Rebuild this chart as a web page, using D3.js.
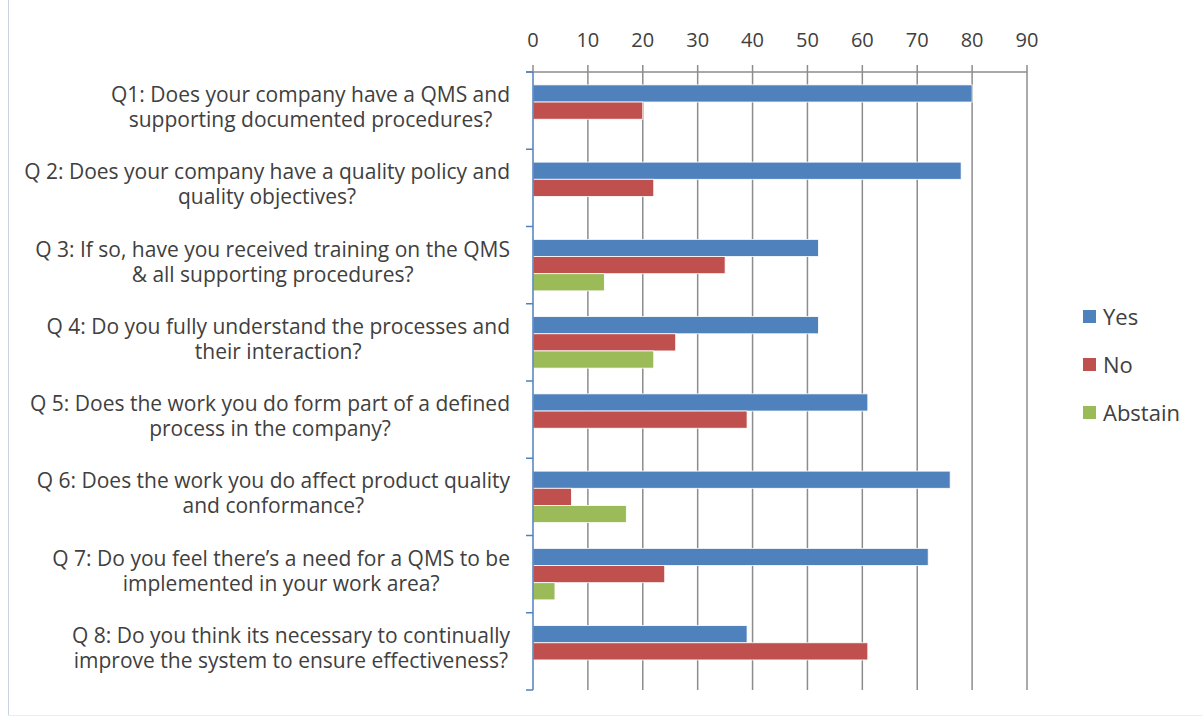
<!DOCTYPE html>
<html>
<head>
<meta charset="utf-8">
<script src="https://cdn.jsdelivr.net/npm/d3@7"></script>
<style>
  body { margin: 0; background: #fff; }
  svg text { font-family: "Open Sans", sans-serif; fill: #404040; }
</style>
</head>
<body>
<svg id="chart" width="1202" height="717"></svg>
<script>
const questions = [
    ['Q1: Does your company have a QMS and', 'supporting documented procedures?'],
    ['Q 2: Does your company have a quality policy and', 'quality objectives?'],
    ['Q 3: If so, have you received training on the QMS', '& all supporting procedures?'],
    ['Q 4: Do you fully understand the processes and', 'their interaction?'],
    ['Q 5: Does the work you do form part of a defined', 'process in the company?'],
    ['Q 6: Does the work you do affect product quality', 'and conformance?'],
    ['Q 7: Do you feel there\u2019s a need for a QMS to be', 'implemented in your work area?'],
    ['Q 8: Do you think its necessary to continually', 'improve the system to ensure effectiveness?']
];
const seriesNames = ['Yes', 'No', 'Abstain'];
const yesValues = [80, 78, 52, 52, 61, 76, 72, 39];
const noValues = [20, 22, 35, 26, 39, 7, 24, 61];
const abstainValues = [0, 0, 13, 22, 0, 17, 4, 0];
const xTicks = [0, 10, 20, 30, 40, 50, 60, 70, 80, 90];

const colors = {Yes: '#4F81BD', No: '#C0504D', Abstain: '#9BBB59'};
const margins = {left: 533, top: 72, right: 175, bottom: 27};
const width = 1202, height = 717;

const svg = d3.select('#chart');

// frame edges like the cropped original
svg.append('line').attr('x1', 8.5).attr('x2', 8.5).attr('y1', 0).attr('y2', 715)
    .attr('stroke', '#c9d3e3').attr('stroke-width', 1);
svg.append('line').attr('x1', 8).attr('x2', width).attr('y1', 715.5).attr('y2', 715.5)
    .attr('stroke', '#ececec').attr('stroke-width', 1);

const rows = questions.map((q, i) => ({
    idx: i,
    Yes: yesValues[i],
    No: noValues[i],
    Abstain: abstainValues[i]
}));

const xScale = d3.scaleLinear().domain([0, 90]).range([margins.left, 1027]);
const yScale = d3.scaleBand().domain(d3.range(questions.length))
    .range([margins.top, height - margins.bottom]);
// gap width 150% of a bar => bars take 3/(3+1.5)
const inner = d3.scaleBand().domain(seriesNames)
    .range([0, yScale.bandwidth() * 3 / 4.5]);
const innerOffset = yScale.bandwidth() * 0.75 / 4.5;

// vertical grid lines
const grid = svg.append('g').attr('class', 'grid');
grid.selectAll('line').data(xTicks.slice(1)).enter().append('line')
    .attr('x1', (d) => xScale(d)).attr('x2', (d) => xScale(d))
    .attr('y1', margins.top - 7).attr('y2', height - margins.bottom)
    .attr('stroke', '#8c8c8c').attr('stroke-width', 1.5);

// top axis line
svg.append('line').attr('x1', margins.left - 7).attr('x2', xScale(90))
    .attr('y1', margins.top).attr('y2', margins.top)
    .attr('stroke', '#8c8c8c').attr('stroke-width', 1.5);
svg.append('line').attr('x1', margins.left).attr('x2', margins.left)
    .attr('y1', margins.top - 7).attr('y2', margins.top)
    .attr('stroke', '#8c8c8c').attr('stroke-width', 1.5);

// tick labels
svg.append('g').selectAll('text').data(xTicks).enter().append('text')
    .attr('x', (d) => xScale(d)).attr('y', 47)
    .attr('text-anchor', 'middle')
    .style('font-size', '20px')
    .text((d) => d);

// bars
const groups = svg.append('g').selectAll('g').data(rows).enter().append('g')
    .attr('transform', (d) => `translate(0 ${yScale(d.idx) + innerOffset})`);
groups.selectAll('rect')
    .data((d) => seriesNames.map((s) => ({key: s, value: d[s]})).filter((e) => e.value > 0))
    .enter().append('rect')
    .attr('x', xScale(0))
    .attr('y', (d) => inner(d.key))
    .attr('width', (d) => xScale(d.value) - xScale(0))
    .attr('height', inner.bandwidth())
    .attr('fill', (d) => colors[d.key])
    .attr('stroke', '#fff').attr('stroke-width', 0.8);

// left axis (blue) with category ticks
const yAxis = svg.append('g');
yAxis.append('line').attr('x1', margins.left).attr('x2', margins.left)
    .attr('y1', margins.top).attr('y2', height - margins.bottom)
    .attr('stroke', '#4F81BD').attr('stroke-width', 1.5);
yAxis.selectAll('.tick').data(d3.range(questions.length + 1)).enter().append('line')
    .attr('x1', margins.left - 7).attr('x2', margins.left)
    .attr('y1', (d) => margins.top + d * yScale.step())
    .attr('y2', (d) => margins.top + d * yScale.step())
    .attr('stroke', '#4F81BD').attr('stroke-width', 1.5);

// category labels, lines centred on each other, block right-aligned
const labelRight = 510;
const lineGap = 25;
questions.forEach((lines, i) => {
    const g = svg.append('g');
    const texts = g.selectAll('text').data(lines).enter().append('text')
        .style('font-size', '21px')
        .attr('text-anchor', 'middle')
        .attr('y', (d, j) => yScale(i) + yScale.bandwidth() / 2 - 3 + (j - 0.5) * lineGap + 7)
        .text((d) => d);
    let maxW = 0;
    texts.each(function () { maxW = Math.max(maxW, this.getComputedTextLength()); });
    texts.attr('x', labelRight - maxW / 2);
});

// legend
const legend = svg.append('g').attr('transform', 'translate(1083 317)');
const items = legend.selectAll('g').data(seriesNames).enter().append('g')
    .attr('transform', (d, i) => `translate(0 ${i * 48})`);
items.append('rect').attr('x', 0).attr('y', -7).attr('width', 13).attr('height', 13)
    .attr('fill', (d) => colors[d]);
items.append('text').attr('x', 20).attr('y', 8)
    .style('font-size', '22px').text((d) => d);
</script>
</body>
</html>
